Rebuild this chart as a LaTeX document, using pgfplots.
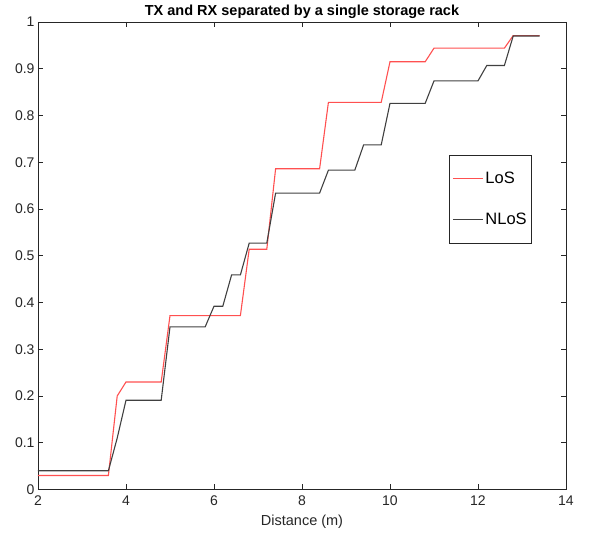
\documentclass[border=0pt]{standalone}
\usepackage{pgfplots}
\pgfplotsset{compat=1.18}
\usepackage{fontspec}
\setmainfont{Liberation Sans}
\definecolor{losred}{RGB}{255,80,80}
\definecolor{nlosgray}{RGB}{64,64,64}
\definecolor{axgray}{RGB}{38,38,38}
\begin{document}
\begin{tikzpicture}
\begin{axis}[
	scale only axis,
	width=528pt,
	height=467.5pt,
	xmin=2, xmax=14,
	ymin=0, ymax=1,
	xtick={2,4,...,14},
	ytick={0,0.1,...,1},
	yticklabel style={/pgf/number format/fixed},
	xticklabel style={yshift=-3pt},
	/pgf/number format/assume math mode=true,
	tick align=inside,
	major tick length=5pt,
	axis line style={axgray, line width=0.6pt},
	every tick/.style={axgray, line width=0.6pt},
	tick label style={font=\fontsize{14}{16}\selectfont, text=axgray},
	xlabel={Distance (m)},
	xlabel style={font=\fontsize{14.5}{16}\selectfont, text=axgray, yshift=-2pt},
	title={TX and RX separated by a single storage rack},
	title style={font=\bfseries\fontsize{14.5}{16}\selectfont, yshift=-6pt},
	legend style={at={(rel axis cs:0.9356,0.7155)}, anchor=north east,
		draw=axgray, line width=0.6pt, font=\fontsize{16.5}{18}\selectfont,
		row sep=24pt, inner xsep=3pt, inner ysep=15pt},
	legend cell align=left,
	legend image code/.code={\draw[#1, line width=0.9pt] (0cm,0cm) -- (30pt,0cm);},
	]
	\addplot [losred, line width=1.1pt] coordinates {
		(2,0.03) (3.6,0.03) (3.8,0.2) (4.0,0.23) (4.8,0.23) (5.0,0.372)
		(6.6,0.372) (6.8,0.514) (7.2,0.514) (7.4,0.686) (8.4,0.686)
		(8.6,0.828) (9.8,0.828) (10.0,0.915) (10.8,0.915) (11.0,0.944)
		(12.6,0.944) (12.8,0.971) (13.4,0.971)
	};
	\addlegendentry{LoS}
	\addplot [nlosgray, line width=1.1pt] coordinates {
		(2,0.04) (3.6,0.04) (3.8,0.11) (4.0,0.191) (4.8,0.191) (5.0,0.348)
		(5.8,0.348) (6.0,0.392) (6.2,0.392) (6.4,0.459) (6.6,0.459)
		(6.8,0.527) (7.2,0.527) (7.4,0.634) (8.4,0.634) (8.6,0.683)
		(9.2,0.683) (9.4,0.737) (9.8,0.737) (10.0,0.826) (10.8,0.826)
		(11.0,0.874) (12.0,0.874) (12.2,0.907) (12.6,0.907) (12.8,0.970)
		(13.4,0.970)
	};
	\addlegendentry{NLoS}
\end{axis}
\path ([shift={(-38pt,-45.5pt)}]current axis.south west) rectangle ([shift={(24pt,22pt)}]current axis.north east);
\end{tikzpicture}
\end{document}
